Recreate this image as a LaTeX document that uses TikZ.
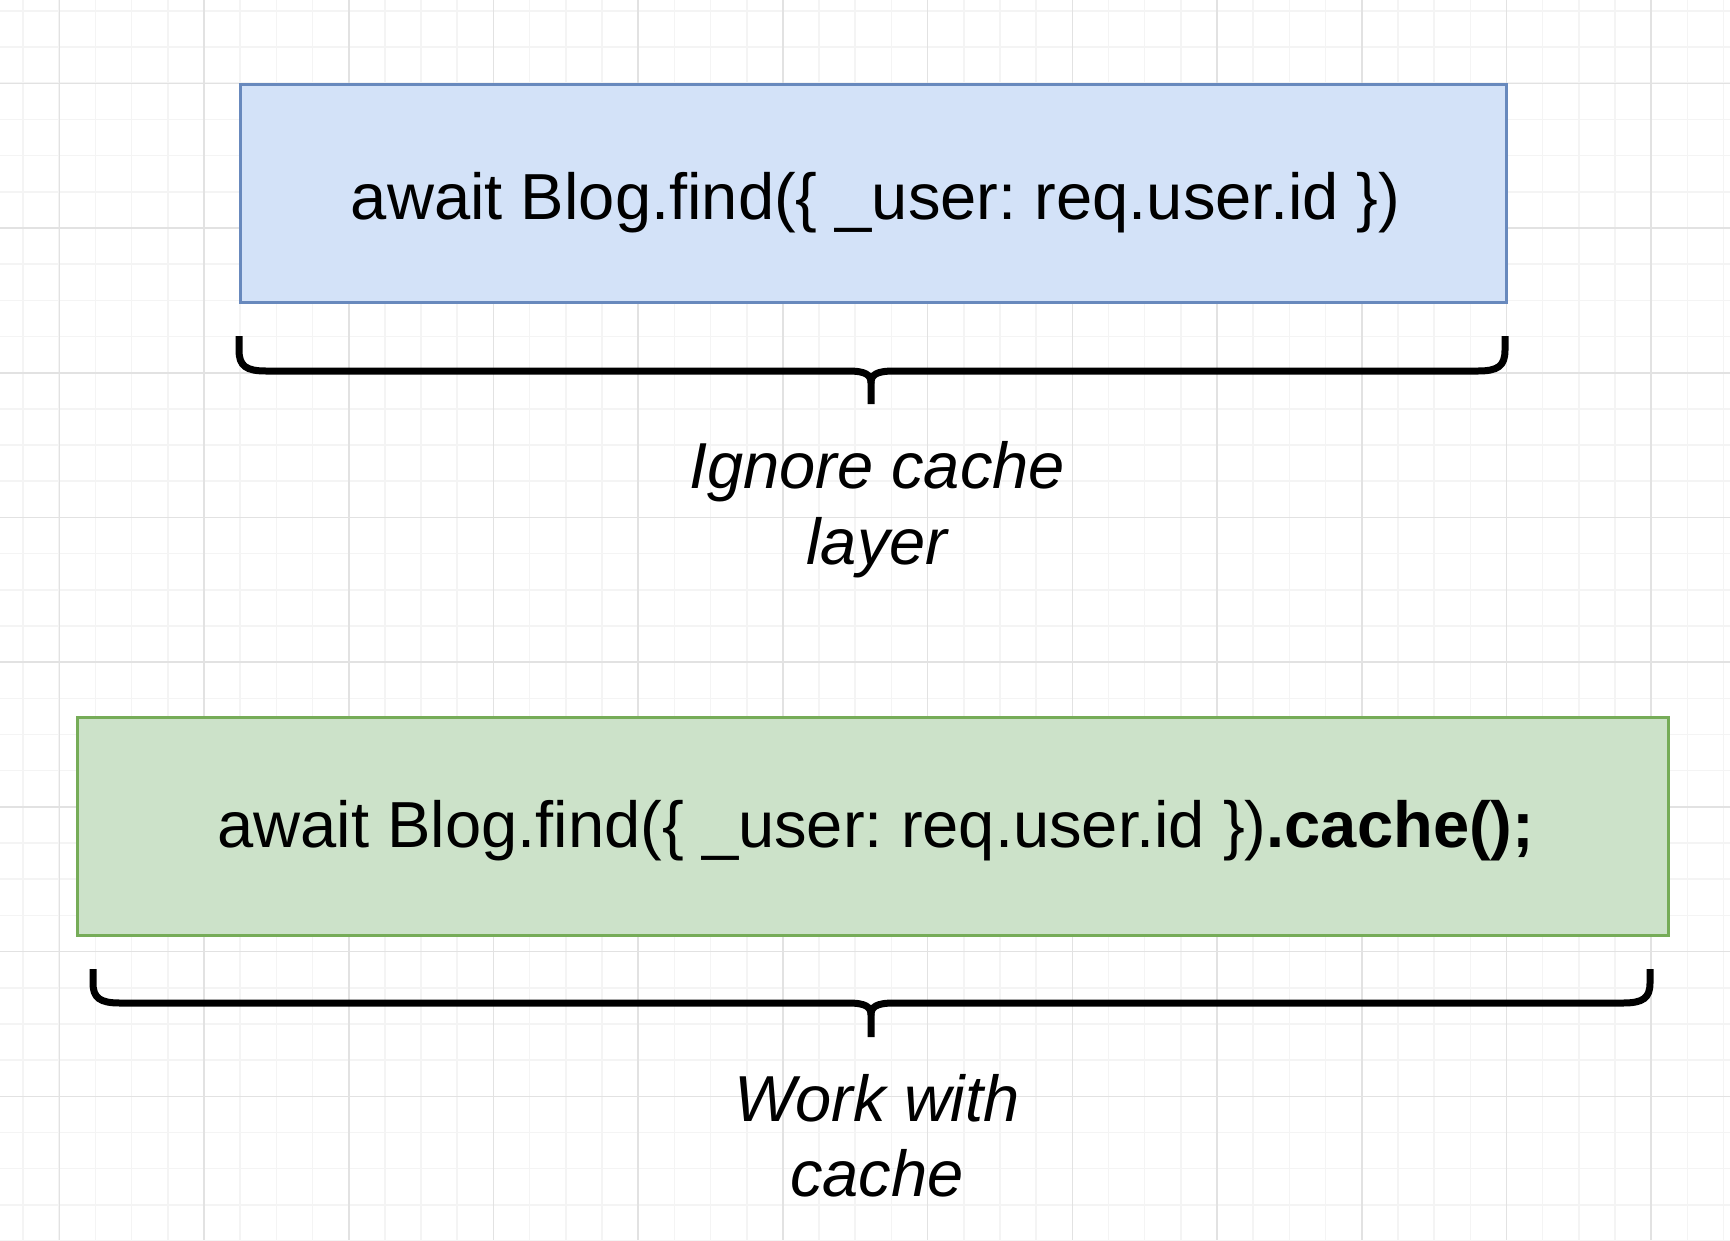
\documentclass[tikz,border=0pt]{standalone}
\usepackage{fontspec}
\setmainfont{Liberation Sans}
\usepackage{tikz}
\usetikzlibrary{calc}

\definecolor{gridminor}{RGB}{244,244,244}
\definecolor{gridmajor}{RGB}{226,226,226}
\definecolor{blogfill}{RGB}{211,226,248}
\definecolor{blogline}{RGB}{104,137,189}
\definecolor{cachefill}{RGB}{204,226,201}
\definecolor{cacheline}{RGB}{118,172,88}

\tikzset{
  minorline/.style={draw=gridminor, line width=1.6pt},
  majorline/.style={draw=gridmajor, line width=1.6pt},
  codebox/.style={draw, line width=3pt, inner sep=0pt},
  codetext/.style={inner sep=0pt, anchor=base,
    font=\fontsize{65.1}{75}\selectfont\frenchspacing},
  bracetext/.style={inner sep=0pt, anchor=north, align=center,
    font=\fontsize{65}{75.5}\selectfont\itshape},
  bracket/.style={draw=black, line width=7pt}
}

\begin{document}
\begin{tikzpicture}[x=1pt,y=-1pt]

\useasboundingbox[fill=white] (0,0) rectangle (1730,1240);

% background grid
\foreach \gx in {0,...,47}
  \draw[minorline] ({23.1+36.18*\gx},0) -- ({23.1+36.18*\gx},1240);
\foreach \gy in {0,...,34}
  \draw[minorline] (0,{10.9+36.18*\gy}) -- (1730,{10.9+36.18*\gy});
\foreach \gx in {0,...,11}
  \draw[majorline] ({59.3+144.72*\gx},0) -- ({59.3+144.72*\gx},1240);
\foreach \gy in {0,...,7}
  \draw[majorline] (0,{83.3+144.72*\gy}) -- (1730,{83.3+144.72*\gy});

% query boxes
\node[codebox, draw=blogline, fill=blogfill, minimum width=1266pt,
  minimum height=218pt] (blog) at (873.7,193.3) {};
\node[codetext] (blogtxt) at ([xshift=2pt,yshift=-25.7pt]blog.center)
  {await Blog.find(\{ \_user: req.user.id \})};

\node[codebox, draw=cacheline, fill=cachefill, minimum width=1591pt,
  minimum height=217.7pt] (cache) at (872.8,826.2) {};
\node[codetext] (cachetxt) at ([xshift=3pt,yshift=-20.8pt]cache.center)
  {await Blog.find(\{ \_user: req.user.id \})\textbf{.cache();}};

% braces
\draw[bracket] (239,336) -- (239,350) .. controls (239,366) and (246,371) .. (266,371)
  -- (848,371) .. controls (866,371) and (871,375) .. (871,383) -- (871,404);
\draw[bracket] (1505,336) -- (1505,350) .. controls (1505,366) and (1498,371) .. (1478,371)
  -- (894,371) .. controls (876,371) and (871,375) .. (871,383);

\draw[bracket] (93,969) -- (93,983) .. controls (93,998) and (100,1003) .. (120,1003)
  -- (848,1003) .. controls (866,1003) and (871,1007) .. (871,1015) -- (871,1037);
\draw[bracket] (1650,969) -- (1650,983) .. controls (1650,998) and (1643,1003) .. (1623,1003)
  -- (894,1003) .. controls (876,1003) and (871,1007) .. (871,1015);

% brace labels
\node[bracetext] (ignore) at (877,441.5) {Ignore cache\\layer};
\node[bracetext] (work) at (877,1074) {Work with\\cache};

\end{tikzpicture}
\end{document}
